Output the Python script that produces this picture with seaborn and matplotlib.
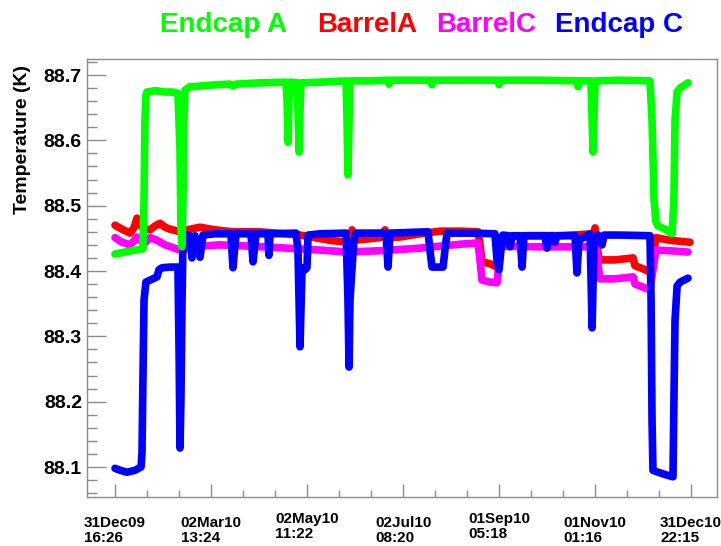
import numpy as np
import pandas as pd
import matplotlib
matplotlib.use("Agg")
import matplotlib.pyplot as plt
import matplotlib.dates as mdates
import seaborn as sns

# ---- data (time in days since 2010-01-01 00:00, temperature in K) ----
endcapA_days = [-0.3, 6.0, 12.4, 17.4, 18.1, 18.7, 19.3, 20.0, 25.1, 31.4, 35.8, 39.6, 40.9, 41.5,
                42.2, 42.8, 43.4, 44.1, 47.2, 53.6, 63.1, 72.6, 74.5, 76.4, 91.6, 108.1, 108.8, 109.4,
                110.0, 110.7, 115.1, 115.7, 116.4, 117.0, 117.6, 129.7, 146.2, 146.8, 147.4, 148.1,
                148.7, 161.4, 172.8, 173.4, 174.7, 199.4, 200.7, 202.0, 224.8, 242.5, 243.2, 244.4,
                269.2, 292.6, 293.3, 294.5, 301.5, 302.2, 302.8, 303.4, 304.1, 319.9, 338.9, 340.2,
                341.5, 342.7, 344.0, 348.4, 352.9, 354.1, 354.8, 356.1, 358.0, 363.0]
endcapA_temp = [88.426, 88.429, 88.432, 88.434, 88.509, 88.631, 88.669, 88.674, 88.676, 88.674,
                88.674, 88.672, 88.585, 88.463, 88.437, 88.509, 88.631, 88.677, 88.682, 88.683,
                88.685, 88.686, 88.683, 88.686, 88.688, 88.689, 88.662, 88.597, 88.662, 88.689,
                88.688, 88.646, 88.582, 88.646, 88.688, 88.689, 88.691, 88.631, 88.547, 88.631,
                88.691, 88.691, 88.692, 88.686, 88.692, 88.692, 88.685, 88.692, 88.692, 88.692,
                88.685, 88.692, 88.692, 88.691, 88.682, 88.691, 88.691, 88.631, 88.582, 88.631,
                88.691, 88.692, 88.691, 88.631, 88.509, 88.475, 88.469, 88.464, 88.457, 88.509,
                88.631, 88.674, 88.680, 88.688]

barrelA_days = [-0.3, 4.1, 9.2, 11.7, 13.6, 16.2, 18.7, 21.9, 25.1, 28.2, 31.4, 34.6, 40.9, 47.2,
                53.6, 63.1, 74.5, 91.6, 117.0, 136.0, 146.8, 148.7, 150.0, 151.2, 167.7, 170.9,
                172.2, 180.4, 193.1, 205.8, 218.5, 229.9, 231.1, 232.4, 237.5, 241.9, 243.2, 244.4,
                262.8, 281.9, 303.4, 304.1, 305.3, 306.6, 316.7, 328.2, 329.4, 335.8, 338.9, 340.8,
                342.7, 351.6, 364.3]
barrelA_temp = [88.470, 88.464, 88.458, 88.466, 88.481, 88.469, 88.464, 88.463, 88.469, 88.473,
                88.467, 88.464, 88.460, 88.464, 88.467, 88.463, 88.460, 88.460, 88.455, 88.447,
                88.444, 88.451, 88.463, 88.447, 88.451, 88.463, 88.451, 88.452, 88.457, 88.461,
                88.461, 88.460, 88.440, 88.414, 88.411, 88.406, 88.432, 88.452, 88.454, 88.454,
                88.457, 88.466, 88.440, 88.417, 88.417, 88.420, 88.408, 88.402, 88.398, 88.424,
                88.451, 88.447, 88.444]

barrelC_days = [-0.3, 4.1, 9.2, 11.7, 13.6, 16.2, 18.7, 21.9, 26.3, 31.4, 40.9, 53.6, 66.3, 85.3,
                108.8, 129.7, 146.8, 167.7, 193.1, 218.5, 229.9, 231.1, 232.4, 237.5, 241.9, 243.2,
                244.4, 269.2, 288.2, 304.7, 306.0, 307.2, 316.7, 328.2, 329.4, 335.8, 338.9, 340.8,
                342.7, 351.6, 363.0]
barrelC_temp = [88.451, 88.444, 88.440, 88.446, 88.452, 88.446, 88.443, 88.451, 88.447, 88.440,
                88.432, 88.438, 88.440, 88.438, 88.435, 88.432, 88.429, 88.431, 88.435, 88.441,
                88.443, 88.417, 88.386, 88.383, 88.382, 88.414, 88.438, 88.437, 88.437, 88.437,
                88.409, 88.388, 88.388, 88.391, 88.380, 88.374, 88.371, 88.402, 88.432, 88.431,
                88.429]

endcapC_days = [-0.3, 2.9, 7.3, 12.4, 16.2, 16.8, 17.4, 18.1, 19.3, 21.9, 26.3, 27.6, 29.5, 34.6,
                39.6, 40.3, 40.9, 41.5, 42.2, 42.8, 45.3, 47.2, 48.5, 50.4, 53.6, 55.5, 63.1, 73.2,
                74.5, 76.4, 85.9, 87.2, 89.1, 96.7, 97.3, 98.0, 114.5, 115.7, 117.0, 118.3, 120.2,
                121.4, 122.1, 129.7, 146.2, 147.4, 148.1, 148.7, 150.0, 151.2, 152.5, 171.5, 172.8,
                174.1, 198.2, 199.4, 200.7, 207.7, 208.9, 210.2, 224.8, 240.6, 241.9, 243.2, 244.4,
                245.7, 248.9, 250.2, 251.4, 256.5, 257.8, 259.0, 272.3, 273.6, 274.9, 277.4, 278.7,
                280.0, 291.4, 292.6, 293.9, 300.9, 302.2, 303.4, 306.0, 308.5, 309.8, 319.9, 338.9,
                339.6, 340.2, 340.8, 344.0, 349.1, 353.5, 354.1, 354.8, 356.1, 358.0, 363.0]
endcapC_temp = [88.098, 88.095, 88.092, 88.095, 88.100, 88.121, 88.233, 88.356, 88.383, 88.386,
                88.391, 88.402, 88.405, 88.406, 88.406, 88.279, 88.129, 88.203, 88.356, 88.443,
                88.455, 88.454, 88.420, 88.454, 88.421, 88.455, 88.457, 88.457, 88.405, 88.457,
                88.457, 88.414, 88.457, 88.457, 88.424, 88.457, 88.458, 88.432, 88.284, 88.405,
                88.402, 88.405, 88.455, 88.457, 88.458, 88.356, 88.253, 88.356, 88.405, 88.447,
                88.458, 88.458, 88.406, 88.458, 88.460, 88.432, 88.406, 88.406, 88.432, 88.458,
                88.458, 88.457, 88.417, 88.402, 88.432, 88.455, 88.454, 88.437, 88.454, 88.454,
                88.406, 88.454, 88.454, 88.435, 88.454, 88.454, 88.444, 88.454, 88.454, 88.397,
                88.447, 88.457, 88.313, 88.447, 88.455, 88.440, 88.455, 88.455, 88.454, 88.356,
                88.172, 88.095, 88.092, 88.088, 88.085, 88.203, 88.325, 88.377, 88.383, 88.389]

tick_times = ["2009-12-31 16:26", "2010-03-02 13:24", "2010-05-02 11:22", "2010-07-02 08:20",
              "2010-09-01 05:18", "2010-11-01 01:16", "2010-12-31 22:15"]
y_ticks = [88.1, 88.2, 88.3, 88.4, 88.5, 88.6, 88.7]

series_names = ["Endcap A", "BarrelA", "BarrelC", "Endcap C"]
series_colors = ["#00ff00", "#ff0000", "#ff00ff", "#0000ff"]

# ---- build table ----
ref = pd.Timestamp("2010-01-01")
frames = []
for name, d, t in zip(series_names,
                      [endcapA_days, barrelA_days, barrelC_days, endcapC_days],
                      [endcapA_temp, barrelA_temp, barrelC_temp, endcapC_temp]):
    frames.append(pd.DataFrame({"time": ref + pd.to_timedelta(d, unit="D"),
                                "temp": t, "sensor": name}))
df = pd.concat(frames, ignore_index=True)

sns.set_theme(style="white")
plt.rcParams['font.family'] = ['Liberation Sans', 'DejaVu Sans']

W, H = 721, 546
fig = plt.figure(figsize=(W / 100, H / 100), dpi=100)
ax = fig.add_axes([87 / W, 1 - 497 / H, 630 / W, 438 / H])

color_map = dict(zip(series_names, series_colors))
for name in ["BarrelA", "BarrelC", "Endcap C", "Endcap A"]:
    sns.lineplot(data=df[df.sensor == name], x="time", y="temp", color=color_map[name],
                 lw=5.5, estimator=None, sort=False, ax=ax, legend=False,
                 solid_capstyle="round", solid_joinstyle="round")

ax.set_xlim(pd.Timestamp("2009-12-13 22:20"), pd.Timestamp("2011-01-17 09:40"))
ax.set_ylim(88.0541, 88.7245)
ax.set_xlabel("")
ax.set_ylabel("")

major = pd.to_datetime(tick_times)
ax.set_xticks(major)
ax.set_xticklabels([t.strftime("%d%b%y\n%H:%M") for t in major])
mnum = mdates.date2num(major)
step = (mnum[-1] - mnum[0]) / (len(mnum) - 1) / 3
minors = [m + k * step for m in mnum[:-1] for k in (1, 2)]
ax.set_xticks(minors, minor=True)

ax.set_yticks(y_ticks)
ax.set_yticklabels([f"{v:.1f}" for v in y_ticks])
ax.set_yticks(np.arange(88.06, 88.7201, 0.02), minor=True)

gray = "#8c8c8c"
ax.tick_params(axis="x", which="major", direction="in", length=9.5, width=1, color=gray,
               pad=13.5, labelsize=11, bottom=True, top=False)
ax.tick_params(axis="x", which="minor", direction="in", length=5, width=1, color=gray,
               bottom=True, top=False)
ax.tick_params(axis="y", which="major", direction="in", length=14, width=1, color=gray,
               pad=3.6, labelsize=14, left=True, right=False)
ax.tick_params(axis="y", which="minor", direction="in", length=7, width=1, color=gray,
               left=True, right=False)
for i, tk in enumerate(ax.xaxis.get_major_ticks()):
    lab = tk.label1
    lab.set_fontweight("bold")
    lab.set_multialignment("left")
    lab.set_linespacing(1.1)
    lab.set_color("black")
    if i in (2, 4):
        lab.set_y(4 / 438)
for lab in ax.get_yticklabels():
    lab.set_fontweight("bold")
    lab.set_color("black")

for s in ax.spines.values():
    s.set_visible(True)
    s.set_color(gray)
    s.set_linewidth(1.0)
ax.grid(False)

fig.text(23 / W, 1 - 140 / H, "Temperature (K)", rotation=90, ha="center", va="center",
         fontsize=14, fontweight="bold", color="black")

title_x = [224, 367, 486, 619]
for name, col, xc in zip(series_names, series_colors, title_x):
    fig.text(xc / W, 1 - 31.7 / H, name, ha="center", va="baseline", fontsize=20,
             fontweight="bold", color=col)

fig.savefig("out.png", dpi=100)
